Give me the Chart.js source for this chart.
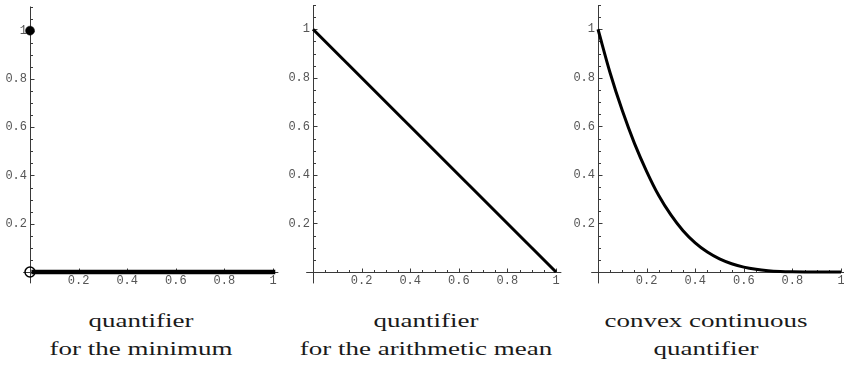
<!DOCTYPE html>
<html>
<head>
<meta charset="utf-8">
<script src="https://cdn.jsdelivr.net/npm/chart.js@4/dist/chart.umd.min.js"></script>
<style>
  html, body { margin:0; padding:0; background:#fff; width:844px; height:365px; overflow:hidden; }
  .panel { position:absolute; top:0; width:280px; height:300px; }
  .cap { position:absolute; width:300px; text-align:center; font-family:"Liberation Serif", serif;
         font-size:19px; line-height:28px; color:#1a1a1a; transform:scaleX(1.42); transform-origin:50% 50%; white-space:nowrap; }
</style>
</head>
<body>
<div class="panel" style="left:0px"><canvas id="c1" width="280" height="300"></canvas></div>
<div class="panel" style="left:283px"><canvas id="c2" width="280" height="300"></canvas></div>
<div class="panel" style="left:568px"><canvas id="c3" width="280" height="300"></canvas></div>
<div class="cap" id="cap1"></div>
<div class="cap" id="cap2"></div>
<div class="cap" id="cap3"></div>
<script>
// ---- data ----
const xTicks = [0.2, 0.4, 0.6, 0.8, 1];
const xTickLabels = ['0.2', '0.4', '0.6', '0.8', '1'];
const yTicks = [0.2, 0.4, 0.6, 0.8, 1];
const yTickLabels = ['0.2', '0.4', '0.6', '0.8', '1'];

// panel 1: quantifier for the minimum
const minLineX = [0.015, 1];
const minLineY = [0, 0];
const minDotX = [0];
const minDotY = [1];
const minOpenX = [0];
const minOpenY = [0];

// panel 2: quantifier for the arithmetic mean
const meanX = [0, 1];
const meanY = [1, 0];

// panel 3: convex continuous quantifier
const convexX = [0, 0.05, 0.1, 0.15, 0.2, 0.25, 0.3, 0.35, 0.4, 0.45, 0.5, 0.55, 0.6, 0.65, 0.7, 0.75, 0.8, 0.85, 0.9, 0.95, 1];
const convexY = [1, 0.82, 0.665, 0.53, 0.415, 0.315, 0.235, 0.17, 0.12, 0.082, 0.054, 0.034, 0.02, 0.011, 0.0055, 0.0025, 0.001, 0.0003, 0.0001, 0, 0];

const captions = [
  ['quantifier', 'for the minimum'],
  ['quantifier', 'for the arithmetic mean'],
  ['convex continuous', 'quantifier']
];

// ---- styling ----
const AXIS_COLOR = '#3a3a3a';
const TICK_COLOR = '#555';
const xAxisExtent = [-0.028, 1.022];
const yAxisExtent = [-0.047, 1.1];
const minorStep = 0.05;

function pts(xs, ys) { return xs.map((x, i) => ({x: x, y: ys[i]})); }

const axesPlugin = {
  id: 'mathAxes',
  beforeDatasetsDraw(chart) {
    const ctx = chart.ctx;
    const xs = chart.scales.x, ys = chart.scales.y;
    const x0 = Math.round(xs.getPixelForValue(0)) + 0.5;
    const y0 = Math.round(ys.getPixelForValue(0)) + 0.5;
    ctx.save();
    ctx.strokeStyle = AXIS_COLOR;
    ctx.lineWidth = 1;
    ctx.beginPath();
    ctx.moveTo(xs.getPixelForValue(xAxisExtent[0]), y0);
    ctx.lineTo(xs.getPixelForValue(xAxisExtent[1]), y0);
    ctx.moveTo(x0, ys.getPixelForValue(yAxisExtent[0]));
    ctx.lineTo(x0, ys.getPixelForValue(yAxisExtent[1]));
    for (let k = 1; k * minorStep <= 1.0001; k++) {
      const v = k * minorStep;
      const major = k % 4 === 0;
      const px = Math.round(xs.getPixelForValue(v)) + 0.5;
      ctx.moveTo(px, y0);
      ctx.lineTo(px, y0 - (major ? 4 : 2.5));
    }
    for (let k = 1; k * minorStep <= 1.1001; k++) {
      const v = k * minorStep;
      const major = k % 4 === 0;
      const py = Math.round(ys.getPixelForValue(v)) + 0.5;
      ctx.moveTo(x0, py);
      ctx.lineTo(x0 + (major ? 4 : 2.5), py);
    }
    ctx.stroke();
    ctx.restore();
  }
};

function makeChart(id, datasets) {
  return new Chart(document.getElementById(id), {
    type: 'scatter',
    data: { datasets: datasets },
    options: {
      responsive: false,
      animation: false,
      events: [],
      layout: { padding: { left: 0, top: 5, right: 7, bottom: 3 } },
      plugins: { legend: { display: false }, tooltip: { enabled: false } },
      scales: {
        x: {
          type: 'linear', min: 0, max: 1,
          grid: { display: false, drawTicks: false },
          border: { display: false },
          afterBuildTicks: s => { s.ticks = xTicks.map(v => ({value: v})); },
          afterFit: s => { s.height = 25; s.paddingLeft = 0; s.paddingRight = 0; },
          ticks: {
            padding: 2, maxRotation: 0, autoSkip: false, color: TICK_COLOR,
            font: { family: '"Liberation Mono", monospace', size: 12 },
            callback: (v, i) => xTickLabels[i]
          }
        },
        y: {
          type: 'linear', min: 0, max: 1.1,
          grid: { display: false, drawTicks: false },
          border: { display: false },
          afterBuildTicks: s => { s.ticks = yTicks.map(v => ({value: v})); },
          afterFit: s => { s.width = 30; s.paddingTop = 0; s.paddingBottom = 0; },
          ticks: {
            padding: 3, autoSkip: false, color: TICK_COLOR,
            font: { family: '"Liberation Mono", monospace', size: 12 },
            callback: (v, i) => yTickLabels[i]
          }
        }
      }
    },
    plugins: [axesPlugin]
  });
}

makeChart('c1', [
  { data: pts(minLineX, minLineY), showLine: true, borderColor: '#000', borderWidth: 4.5,
    borderCapStyle: 'square', pointRadius: 0, clip: false },
  { data: pts(minDotX, minDotY), showLine: false, pointRadius: 4.5, pointBackgroundColor: '#000',
    pointBorderColor: '#000', pointBorderWidth: 0.5, clip: false },
  { data: pts(minOpenX, minOpenY), showLine: false, pointRadius: 5, pointBackgroundColor: 'rgba(0,0,0,0)',
    pointBorderColor: '#000', pointBorderWidth: 1.5, clip: false }
]);

makeChart('c2', [
  { data: pts(meanX, meanY), showLine: true, borderColor: '#000', borderWidth: 3,
    pointRadius: 0, clip: false }
]);

makeChart('c3', [
  { data: pts(convexX, convexY), showLine: true, borderColor: '#000', borderWidth: 3,
    cubicInterpolationMode: 'monotone', pointRadius: 0, clip: false }
]);

const capCenters = [141, 426, 706];
captions.forEach((lines, i) => {
  const el = document.getElementById('cap' + (i + 1));
  el.innerHTML = lines.join('<br>');
  el.style.left = (capCenters[i] - 150) + 'px';
  el.style.top = '307px';
});
</script>
</body>
</html>
